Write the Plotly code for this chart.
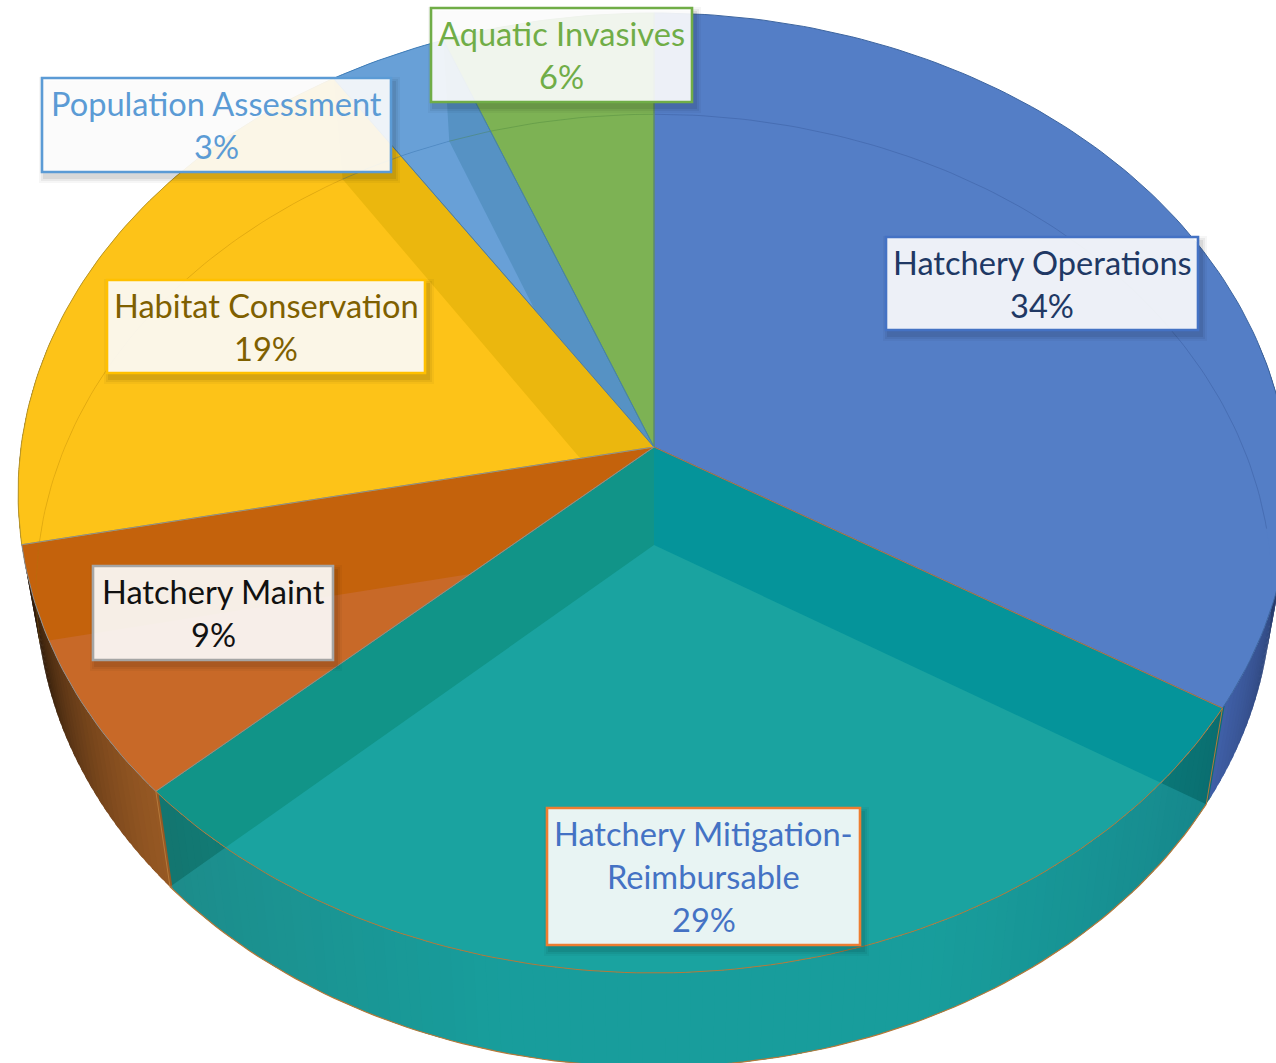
import math
import plotly.graph_objects as go

# ---- data ----
categories = ["Hatchery Operations", "Hatchery Mitigation-Reimbursable", "Hatchery Maint",
              "Habitat Conservation", "Population Assessment", "Aquatic Invasives"]
values = [33.7, 29.4, 8.6, 19.0, 3.3, 5.9]
label_lines = [["Hatchery Operations"], ["Hatchery Mitigation-", "Reimbursable"], ["Hatchery Maint"],
               ["Habitat Conservation"], ["Population Assessment"], ["Aquatic Invasives"]]

# ---- style ----
# colour of a slice where it lies over another slice's wall / over its own floor
strip_col = [(84, 126, 198), (5, 148, 154), (196, 98, 12), (235, 183, 14), (86, 146, 196), (125, 178, 84)]
strip_left = (17, 148, 136)
own_col = [(84, 126, 198), (26, 163, 160), (200, 105, 40), (253, 195, 24), (104, 160, 215), (125, 178, 84)]
edge_col = ["#3D659F", "#B5793A", "#8E8E8E", "#B8962A", "#3F7DB8", "#6D9E50"]
border_col = ["#4472C4", "#ED7D31", "#A5A5A5", "#FFC000", "#5B9BD5", "#70AD47"]
text_col = ["#203864", "#4472C4", "#111111", "#7F6000", "#5B9BD5", "#70AD47"]
boxes = [(886, 237, 1198, 330), (547, 808, 860, 945), (93, 566, 333, 660),
         (107, 280, 425, 373), (42, 78, 391, 172), (431, 8, 692, 102)]
FONT = "Lato"
FSIZE = 32.6
LINE_GAP = 43

W, H = 1276, 1063
P = 0.0958


def rim(deg, layer=0):
    t = math.radians(deg)
    u, v = math.sin(t), -math.cos(t)
    w = 1 - P * v
    if layer == 0:
        return (654 + 633 * u / w, 447 + 475.6 * v / w)
    return (654 + 615 * u / w, 545 + 472 * v / w)


def arc(a, b, layer=0):
    n = max(2, int(abs(b - a)) + 1)
    return [rim(a + (b - a) * i / n, layer) for i in range(n + 1)]


def apex(layer=0):
    return (654, 447) if layer == 0 else (654, 545)


def wedge(a, b, layer=0):
    return [apex(layer)] + arc(a, b, layer)


def clip(subject, clipper):
    """Sutherland-Hodgman, clipper convex."""
    area = sum(clipper[i][0]*clipper[(i+1) % len(clipper)][1] - clipper[(i+1) % len(clipper)][0]*clipper[i][1]
               for i in range(len(clipper)))
    sign = 1 if area > 0 else -1
    out = subject
    for i in range(len(clipper)):
        a, b = clipper[i], clipper[(i+1) % len(clipper)]
        inside = lambda p: sign*((b[0]-a[0])*(p[1]-a[1]) - (b[1]-a[1])*(p[0]-a[0])) >= 0
        new = []
        for j in range(len(out)):
            p, q = out[j], out[(j+1) % len(out)]
            ip, iq = inside(p), inside(q)
            if ip:
                new.append(p)
            if ip != iq:
                d1 = (b[0]-a[0])*(q[1]-p[1]) - (b[1]-a[1])*(q[0]-p[0])
                s = ((b[0]-a[0])*(a[1]-p[1]) - (b[1]-a[1])*(a[0]-p[0])) / d1
                new.append((p[0]+s*(q[0]-p[0]), p[1]+s*(q[1]-p[1])))
        out = new
        if not out:
            return []
    return out


def rgb(c):
    c = tuple(int(round(x)) for x in c)
    return f"rgb({c[0]},{c[1]},{c[2]})"


def mix(c1, c2, t):
    return tuple(c1[i] + (c2[i]-c1[i])*t for i in range(3))


fig = go.Figure()


def poly(pts, fill, line=None, lw=0):
    if not pts:
        return
    xs = [p[0] for p in pts] + [pts[0][0]]
    ys = [p[1] for p in pts] + [pts[0][1]]
    fig.add_trace(go.Scatter(x=xs, y=ys, mode="lines", fill="toself", fillcolor=fill,
                             line=dict(color=line or "rgba(0,0,0,0)", width=lw), hoverinfo="skip", showlegend=False))


def path(pts, color, lw=1):
    fig.add_trace(go.Scatter(x=[p[0] for p in pts], y=[p[1] for p in pts], mode="lines",
                             line=dict(color=color, width=lw), hoverinfo="skip", showlegend=False))


# slice boundaries in degrees, clockwise from 12 o'clock
total = sum(values)
edges = [0.0]
for v in values:
    edges.append(edges[-1] + 360.0 * v / total)
spans = list(zip(edges[:-1], edges[1:]))


def wall_colour(deg):
    a1, a2, a3 = edges[1], edges[2], edges[3]
    if deg < a1:
        return mix((14, 20, 40), (64, 96, 168), ((deg - 78) / (a1 - 78)) ** 0.9)
    if deg < a2:
        if deg < (a1 + a2) / 2:
            return mix((10, 110, 112), (12, 141, 135), min(1, (deg - a1) / 35))
        return mix((12, 141, 135), (19, 117, 111), max(0, (deg - (a2 - 35)) / 35))
    if deg < a3:
        return mix((150, 88, 35), (28, 16, 6), ((deg - a2) / (a3 - a2)) ** 1.3)
    return (20, 10, 0)


# front walls, shaded step by step around the rim; steps overlap so no seams show
d = 284
while d > 78:
    poly(arc(d - 1.6, d, 0) + arc(d, d - 1.6, 1), rgb(wall_colour(d - 0.5)))
    d -= 1

# lighter floor of the front slice seen over its wall
poly(wedge(*spans[1], 1), "rgba(59,209,219,0.25)")

# top face: every slice first in the colour it has away from its own floor
half_left = [(-50, -50), (654, -50), (654, H + 50), (-50, H + 50)]
for i, (a, b) in enumerate(spans):
    poly(wedge(a, b, 0), rgb(strip_col[i]))
poly(clip(wedge(*spans[1], 0), half_left), rgb(strip_left))

# then the part of the slice over its own floor and its own back wall
for i, (a, b) in enumerate(spans):
    top = wedge(a, b, 0)
    poly(clip(wedge(a, b, 1), top), rgb(own_col[i]))
    if i >= 3:
        poly(clip(arc(a, b, 0) + arc(b, a, 1), top), rgb(own_col[i]))

# faint far edge of the floor and back-wall edge
path(arc(0, 88, 1), "rgba(40,70,130,0.35)", 0.8)
path(arc(edges[3], edges[4], 1), "rgba(170,120,10,0.35)", 0.8)
path(arc(edges[4], edges[5], 1), "rgba(50,110,170,0.45)", 0.8)
path(arc(edges[5], 360, 1), "rgba(70,130,60,0.45)", 0.8)

# outlines
for i in (0, 1, 3, 5, 4, 2):
    a, b = spans[i]
    path(wedge(a, b, 0) + [apex(0)], edge_col[i], 1)
path(arc(edges[1], edges[2], 1), edge_col[1], 1.2)
for i in (1, 2):
    path([rim(edges[i], 0), rim(edges[i], 1)], edge_col[1], 1)

# labels
shapes, annos = [], []
for i, (x0, y0, x1, y1) in enumerate(boxes):
    for grow, alpha in ((6, 0.035), (4, 0.05), (2, 0.07)):
        shapes.append(dict(type="rect", xref="x", yref="y", x0=x0+3-grow, x1=x1+3+grow, y0=y0+5-grow, y1=y1+5+grow,
                           fillcolor=f"rgba(0,0,0,{alpha})", line=dict(width=0), layer="above"))
    shapes.append(dict(type="rect", xref="x", yref="y", x0=x0, x1=x1, y0=y0, y1=y1,
                       fillcolor="rgba(255,255,255,0.9)", line=dict(color=border_col[i], width=2.6), layer="above"))
    lines = label_lines[i] + [f"{round(values[i])}%"]
    cx = (x0 + x1) / 2
    cy = (y0 + y1) / 2
    for k, t in enumerate(lines):
        annos.append(dict(x=cx, y=cy + (k - (len(lines) - 1) / 2) * LINE_GAP, xref="x", yref="y", text=t,
                          showarrow=False, xanchor="center", yanchor="middle",
                          font=dict(family=FONT, size=FSIZE, color=text_col[i])))

fig.update_layout(width=W, height=H, margin=dict(l=0, r=0, t=0, b=0), showlegend=False,
                  paper_bgcolor="white", plot_bgcolor="white", shapes=shapes, annotations=annos,
                  xaxis=dict(range=[0, W], visible=False, fixedrange=True),
                  yaxis=dict(range=[H, 0], visible=False, fixedrange=True))
fig.write_html("out.html", post_script="document.body.style.margin='0';document.body.style.overflow='hidden';",
               config={"displayModeBar": False})
